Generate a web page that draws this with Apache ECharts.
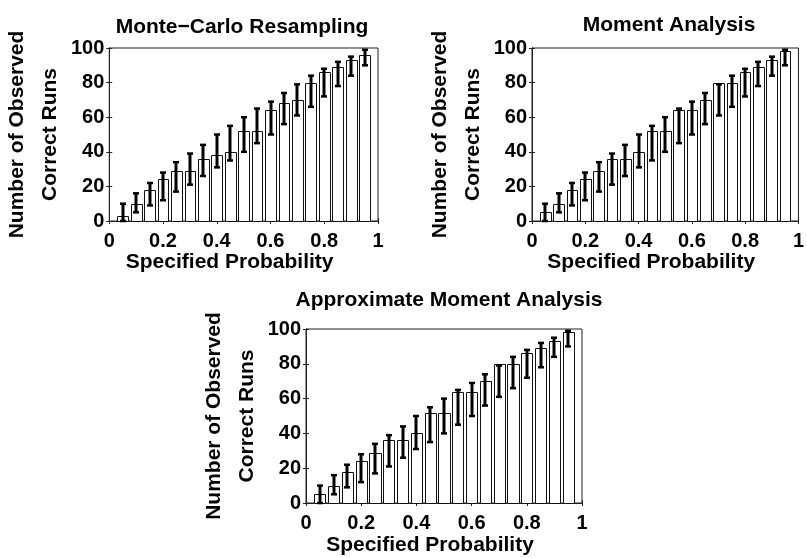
<!DOCTYPE html>
<html>
<head>
<meta charset="utf-8">
<script src="https://cdn.jsdelivr.net/npm/echarts@6/dist/echarts.min.js"></script>
<style>
html,body{margin:0;padding:0;background:#fff;}
#chart{width:807px;height:558px;}
</style>
</head>
<body>
<div id="chart"></div>
<script>
// ---- data ----
const probs = [0.05,0.10,0.15,0.20,0.25,0.30,0.35,0.40,0.45,0.50,0.55,0.60,0.65,0.70,0.75,0.80,0.85,0.90,0.95];
const mcCorrect  = [3,10,18,24,29,29,36,38,40,52,52,64,68,70,80,86,89,93,96];
const maCorrect  = [5,10,18,24,29,36,36,40,52,52,64,64,70,80,80,86,89,93,98];
const amaCorrect = [5,10,18,24,29,36,36,40,52,52,64,64,70,80,80,86,89,93,98];
const ciLow  = [0,5,9,12,17,21,26,31,35,40,45,50,56,61,66,72,78,84,90];
const ciHigh = [10,16,22,28,34,39,44,50,55,60,65,69,74,79,84,88,92,95,99];
const xTicks = [0,0.2,0.4,0.6,0.8,1];
const yTicks = [0,20,40,60,80,100];
const panelTitles = ['Monte\u2212Carlo Resampling','Moment Analysis','Approximate Moment Analysis'];
const xName = 'Specified Probability';
const yName = 'Number of Observed\nCorrect Runs';

// ---- layout ----
const panels = [
  {grid:{left:104,top:48,width:274,height:173}, titleX:237, titleY:12, yGap:35, xGap:30, values:mcCorrect},
  {grid:{left:532,top:48,width:274,height:173}, titleX:664, titleY:10, yGap:40, xGap:30, values:maCorrect},
  {grid:{left:306,top:329,width:276,height:174}, titleX:444, titleY:285, yGap:38, xGap:32, values:amaCorrect}
];

const FONT = '"Liberation Sans", Arial, Helvetica, sans-serif';
const AX = '#222';
const txt = {fontFamily:FONT, fontSize:20, fontWeight:'bold', color:'#000'};
const big = {fontFamily:FONT, fontSize:21, fontWeight:'bold', color:'#000'};

const option = {
  backgroundColor:'#fff',
  animation:false,
  title:[], grid:[], xAxis:[], yAxis:[], series:[]
};

const barWidthData = 0.04;
const capHalf = 3;

panels.forEach((p, i) => {
  option.title.push({
    text: panelTitles[i], left: p.titleX, top: p.titleY, textAlign:'center',
    textStyle: Object.assign({}, big)
  });
  option.grid.push(Object.assign({show:true, borderColor:AX, borderWidth:1, backgroundColor:'#fff'}, p.grid));
  const xMin = xTicks[0], xMax = xTicks[xTicks.length-1], xInt = xTicks[1]-xTicks[0];
  const yMin = yTicks[0], yMax = yTicks[yTicks.length-1], yInt = yTicks[1]-yTicks[0];
  option.xAxis.push({
    type:'value', gridIndex:i, min:xMin, max:xMax, interval:xInt, position:'bottom',
    axisLine:{show:true, lineStyle:{color:AX, width:1}},
    axisTick:{show:true, inside:true, length:3, lineStyle:{color:AX}},
    axisLabel:Object.assign({margin:10}, txt),
    splitLine:{show:false},
    name:xName, nameLocation:'middle', nameGap:p.xGap,
    nameTextStyle:Object.assign({padding:[0,28,0,0]}, big)
  });
  option.xAxis.push({
    type:'value', gridIndex:i, min:xMin, max:xMax, interval:xInt, position:'top',
    axisLine:{show:true, lineStyle:{color:AX, width:1}},
    axisTick:{show:true, inside:true, length:3, lineStyle:{color:AX}},
    axisLabel:{show:false}, splitLine:{show:false}
  });
  option.yAxis.push({
    type:'value', gridIndex:i, min:yMin, max:yMax, interval:yInt, position:'left',
    axisLine:{show:true, lineStyle:{color:AX, width:1}},
    axisTick:{show:true, inside:true, length:3, lineStyle:{color:AX}},
    axisLabel:Object.assign({margin:5}, txt),
    splitLine:{show:false},
    name:yName, nameLocation:'middle', nameRotate:90, nameGap:p.yGap,
    nameTextStyle:Object.assign({lineHeight:33}, big)
  });
  option.yAxis.push({
    type:'value', gridIndex:i, min:yMin, max:yMax, interval:yInt, position:'right',
    axisLine:{show:true, lineStyle:{color:AX, width:1}},
    axisTick:{show:true, inside:true, length:3, lineStyle:{color:AX}},
    axisLabel:{show:false}, splitLine:{show:false}
  });

  option.series.push({
    type:'custom', xAxisIndex:2*i, yAxisIndex:2*i, z:2,
    data: probs.map((x, k) => [x, p.values[k]]),
    renderItem: function(params, api){
      const x = api.value(0), y = api.value(1);
      const base = api.coord([x, 0]);
      const top = api.coord([x, y]);
      const w = api.size([barWidthData, 0])[0];
      const x0 = Math.round(base[0] - w/2) + 0.5;
      const x1 = Math.round(base[0] + w/2) + 0.5;
      const y0 = Math.round(top[1]) + 0.5;
      const y1 = Math.round(base[1]) + 0.5;
      return {
        type:'rect',
        shape:{x:x0, y:y0, width:x1-x0, height:y1-y0},
        style:{fill:'#fff', stroke:'#111', lineWidth:1}
      };
    }
  });
  option.series.push({
    type:'custom', xAxisIndex:2*i, yAxisIndex:2*i, z:3,
    data: probs.map((x, k) => [x, ciLow[k], ciHigh[k]]),
    renderItem: function(params, api){
      const x = api.value(0);
      const lo = api.coord([x, api.value(1)]);
      const hi = api.coord([x, api.value(2)]);
      const cx = Math.round(lo[0]);
      const st = {stroke:'#000', lineWidth:3};
      return {
        type:'group',
        children:[
          {type:'line', shape:{x1:cx, y1:lo[1], x2:cx, y2:hi[1]}, style:st},
          {type:'line', shape:{x1:cx-capHalf, y1:lo[1], x2:cx+capHalf, y2:lo[1]}, style:{stroke:'#000', lineWidth:2.5}},
          {type:'line', shape:{x1:cx-capHalf, y1:hi[1], x2:cx+capHalf, y2:hi[1]}, style:{stroke:'#000', lineWidth:2.5}}
        ]
      };
    }
  });
});

const chart = echarts.init(document.getElementById('chart'), null, {renderer:'canvas'});
chart.setOption(option);
</script>
</body>
</html>
